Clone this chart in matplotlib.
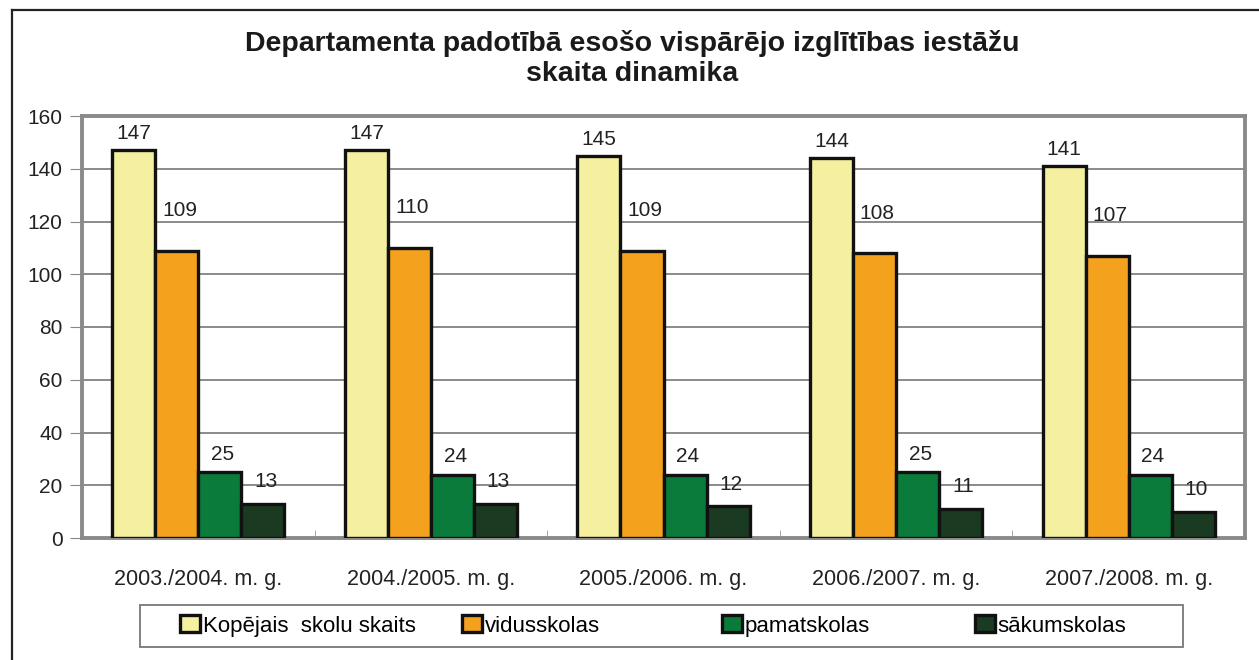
import matplotlib
matplotlib.use("Agg")
import matplotlib.pyplot as plt
from matplotlib.patches import Rectangle
import numpy as np

years = ["2003./2004. m. g.", "2004./2005. m. g.", "2005./2006. m. g.",
         "2006./2007. m. g.", "2007./2008. m. g."]
series_names = ["Kopējais  skolu skaits", "vidusskolas", "pamatskolas", "sākumskolas"]
kopejais = [147, 147, 145, 144, 141]
vidusskolas = [109, 110, 109, 108, 107]
pamatskolas = [25, 24, 24, 25, 24]
sakumskolas = [13, 13, 12, 11, 10]
colors = ["#F4F0A0", "#F4A11E", "#0B7B3C", "#1B3A22"]
# label offsets above bar tops (points), as placed in the original
label_offsets = [5, 22, 6, 9]

plt.rcParams["font.family"] = ["Liberation Sans", "DejaVu Sans"]

W, H = 1259, 660
fig = plt.figure(figsize=(W / 100, H / 100), dpi=100)
ax = fig.add_axes([82 / W, 1 - 538 / H, (1245 - 82) / W, (538 - 116) / H])

x = np.arange(len(years))
w = 0.185
all_series = [kopejais, vidusskolas, pamatskolas, sakumskolas]
handles = []
for i, (vals, name, c) in enumerate(zip(all_series, series_names, colors)):
    pos = x + (i - 1.5) * w
    bars = ax.bar(pos, vals, w, color=c, edgecolor="#111111", linewidth=2.4,
                  label=name, zorder=3)
    handles.append(bars)
    for b, v in zip(bars, vals):
        ax.annotate(str(v), (b.get_x() + b.get_width() / 2, v),
                    xytext=(2 if i else 0, label_offsets[i]),
                    textcoords="offset points", ha="center", va="bottom",
                    fontsize=15, color="#222222")

ax.set_xlim(-0.5, len(years) - 0.5)
ax.set_ylim(0, 160)
ax.set_yticks(range(0, 161, 20))
ax.set_xticks(x)
ax.set_xticklabels(years)
ax.set_xticks(np.arange(-0.5, len(years), 1), minor=True)
ax.tick_params(axis="x", which="major", length=0, pad=22, labelsize=15.5,
               colors="#222222")
ax.tick_params(axis="x", which="minor", length=6, color="#999999", direction="in")
ax.tick_params(axis="y", length=9, color="#888888", labelsize=15,
               colors="#222222", pad=5)
ax.yaxis.grid(True, color="#8a8a8a", linewidth=1.4, zorder=0)
for s in ax.spines.values():
    s.set_color("#8a8a8a")
    s.set_linewidth(2.8)

fig.suptitle("Departamenta padotībā esošo vispārējo izglītības iestāžu\nskaita dinamika",
             x=0.502, y=0.954, fontsize=20.5, fontweight="bold", color="#1a1a1a",
             linespacing=1.2)

# legend box with one entry per slot, as in the original layout
fig.add_artist(Rectangle((140 / W, 1 - 647 / H), (1183 - 140) / W, 42 / H,
                         transform=fig.transFigure, facecolor="white",
                         edgecolor="#777777", linewidth=1.3))
slots = [180, 462, 722, 975]
for h, name, sx in zip(handles, series_names, slots):
    fig.legend([h], [name], loc="center left",
               bbox_to_anchor=(sx / W, 1 - 626 / H), frameon=False,
               fontsize=16, handlelength=0.9, handleheight=0.8,
               handletextpad=0.12, borderpad=0, borderaxespad=0)

# outer frame (left and top only)
fig.add_artist(plt.Line2D([12 / W, 12 / W], [0, 1 - 10 / H],
                          transform=fig.transFigure, color="#222222", linewidth=1.6))
fig.add_artist(plt.Line2D([12 / W, 1], [1 - 10 / H, 1 - 10 / H],
                          transform=fig.transFigure, color="#222222", linewidth=1.6))

fig.savefig("out.png", dpi=100)
